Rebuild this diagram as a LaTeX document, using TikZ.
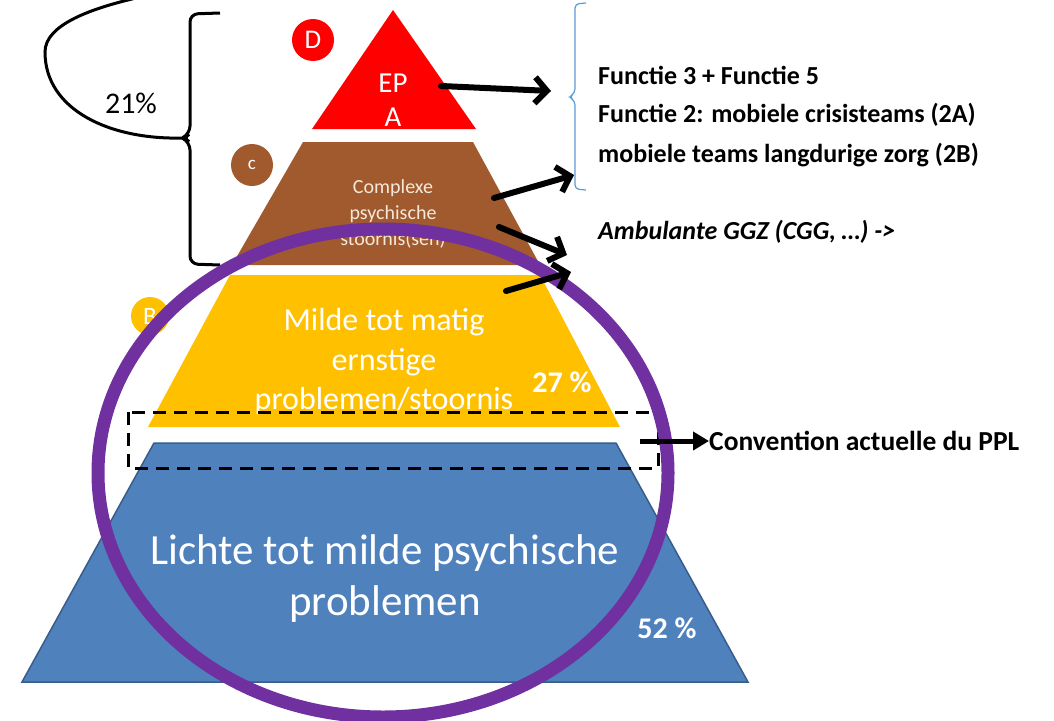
\documentclass[tikz,border=0pt]{standalone}
\usepackage{fontspec}
\setmainfont{Carlito}
\usetikzlibrary{arrows.meta}
\definecolor{pyrred}{RGB}{255,0,0}
\definecolor{pyrbrown}{RGB}{160,90,45}
\definecolor{pyryellow}{RGB}{255,192,0}
\definecolor{pyrblue}{RGB}{79,129,189}
\definecolor{pyrblueedge}{RGB}{56,93,138}
\definecolor{ovalpurple}{RGB}{112,48,160}
\definecolor{bracketblue}{RGB}{91,155,213}
\definecolor{creamtext}{RGB}{245,232,220}
\tikzset{
  fs/.style={font=\fontsize{#1}{#1}\selectfont},
  lbl/.style={inner sep=0pt, text=white},
  rtext/.style={inner sep=0pt, anchor=west, text=black, font=\fontsize{26}{26}\selectfont\bfseries},
  badge/.style={circle, inner sep=0pt, minimum size=42pt, text=white, font=\fontsize{27}{27}\selectfont},
  handarrow/.style={line width=6pt, line cap=round, -{Straight Barb[length=12pt,width=26pt,line width=6pt]}},
}
\begin{document}
\begin{tikzpicture}[x=1pt,y=-1pt]
\useasboundingbox (0,0) rectangle (1054,720);
\clip (0,0) rectangle (1054,720);

% pyramid levels
\fill[pyrred] (393,10) -- (476,129) -- (312,129) -- cycle;
\fill[pyrbrown] (303,142) -- (473,142) -- (540,265) -- (232,265) -- cycle;
\fill[pyryellow] (230,275) -- (540,275) -- (620,427) -- (148,427) -- cycle;
\filldraw[fill=pyrblue, draw=pyrblueedge, line width=1.5pt] (154,443) -- (616,443) -- (748,682) -- (22,682) -- cycle;

% level texts
\node[lbl, fs=29] (ep) at (393,83) {EP};
\node[lbl, fs=29] (epa) at (393,117) {A};
\node[lbl, fs=20, text=creamtext] (c1) at (393,188) {Complexe};
\node[lbl, fs=20, text=creamtext] (c2) at (393,214) {psychische};
\node[lbl, fs=20, text=creamtext] (c3) at (393,240) {stoornis(sen)};
\node[lbl, fs=32] (b1) at (384,322) {Milde tot matig};
\node[lbl, fs=32] (b2) at (384,362) {ernstige};
\node[lbl, fs=32] (b3) at (384,401) {problemen/stoornis};
\node[lbl, font=\fontsize{30}{30}\selectfont\bfseries] (p27) at (562,382) {27 \%};
\node[lbl, fs=43] (a1) at (385,553) {Lichte tot milde psychische};
\node[lbl, fs=43] (a2) at (385,604) {problemen};
\node[lbl, font=\fontsize{30}{30}\selectfont\bfseries] (p52) at (667,628) {52 \%};

% badges
\node[badge, fill=pyrred] (bd) at (313,40) {D};
\node[badge, fill=pyrbrown, font=\fontsize{19}{19}\selectfont] (bc) at (252,165) {c};
\node[badge, fill=pyryellow, minimum size=38pt, font=\fontsize{25}{25}\selectfont] (bb) at (150,316) {B};

% left bracket and curve
\draw[line width=3pt, rounded corners=8pt] (220,13) -- (190,14) -- (190,134) -- (182,138) -- (190,142) -- (190,264) -- (220,265);
\coordinate (btip) at (183,138);
\draw[line width=3pt] (btip) .. controls (110,140) and (45,110) .. (45,52) .. controls (45,25) and (90,8) .. (145,-4);
\node[inner sep=0pt, fs=30] (p21) at (131,103) {21\%};

% right blue bracket
\draw[bracketblue, line width=1.2pt, rounded corners=4pt] (586,3) -- (575,4) -- (575,93) -- (569,97) -- (575,101) -- (575,189) -- (586,190);

% right texts
\node[rtext] (f1) at (598,75) {Functie 3 + Functie 5};
\node[rtext] (f2) at (598,115) {Functie 2: mobiele crisisteams (2A)};
\node[rtext] (f3) at (598,155) {mobiele teams langdurige zorg (2B)};
\node[rtext, font=\fontsize{26}{26}\selectfont\bfseries\itshape] (amb) at (598,232) {Ambulante GGZ (CGG, …) ->};
\node[rtext, font=\fontsize{27.5}{27.5}\selectfont\bfseries] (conv) at (709,441) {Convention actuelle du PPL};

% dashed box
\draw[line width=3pt, dash pattern=on 13pt off 8pt] (128,412) rectangle (658,468);

% purple oval
\draw[ovalpurple, line width=13pt] (383,473) ellipse [x radius=285, y radius=244];

% arrows
\coordinate (s1) at (441,86);
\coordinate (e1) at (551,91);
\coordinate (s2) at (494,198);
\coordinate (e2) at (574,175);
\coordinate (s3) at (499,227);
\coordinate (e3) at (567,255);
\coordinate (s4) at (506,291);
\coordinate (e4) at (571,272);
\coordinate (s5) at (640,441);
\draw[handarrow] (s1) -- (e1);
\draw[handarrow] (s2) -- (e2);
\draw[handarrow] (s3) -- (e3);
\draw[handarrow] (s4) -- (e4);
\draw[line width=5pt, -{Triangle[length=16pt,width=18pt]}] (s5) -- (conv.west);
\end{tikzpicture}
\end{document}
